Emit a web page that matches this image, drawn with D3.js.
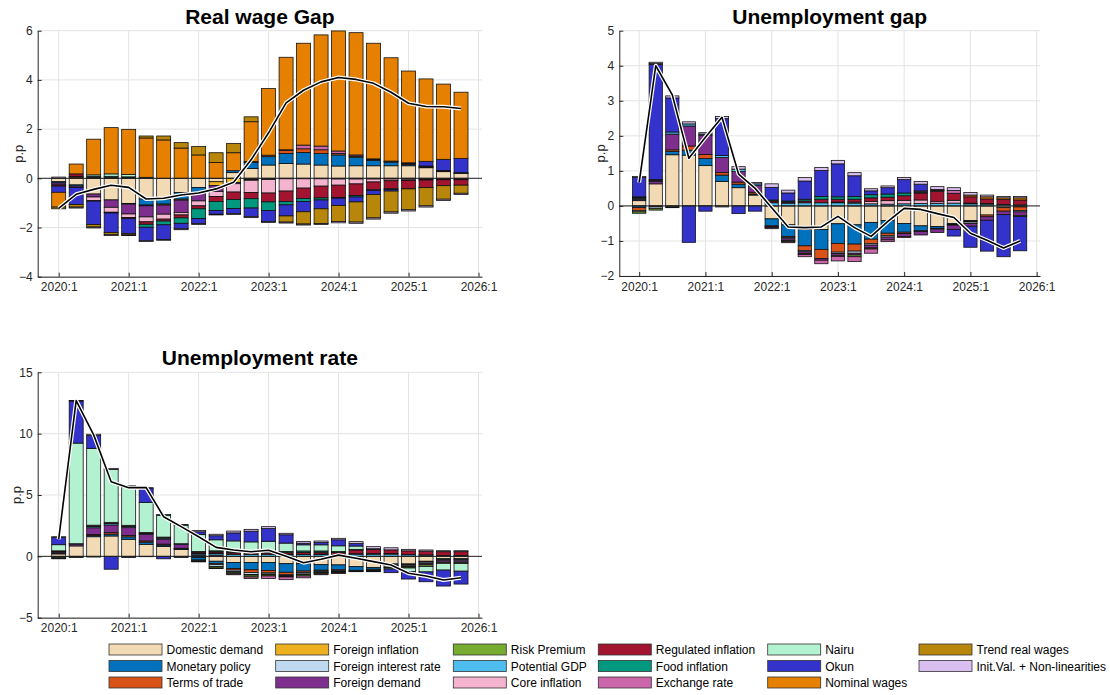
<!DOCTYPE html>
<html>
<head>
<meta charset="utf-8">
<script src="https://cdn.jsdelivr.net/npm/d3@7"></script>
<style>
body { margin: 0; background: #fff; }
text { font-family: "Liberation Sans", Arial, sans-serif; }
</style>
</head>
<body>
<script>
// quarters shown as bars
var quarters = ["2020:1","2020:2","2020:3","2020:4","2021:1","2021:2","2021:3","2021:4",
  "2022:1","2022:2","2022:3","2022:4","2023:1","2023:2","2023:3","2023:4",
  "2024:1","2024:2","2024:3","2024:4","2025:1","2025:2","2025:3","2025:4"];
var xTickLabels = ["2020:1","2021:1","2022:1","2023:1","2024:1","2025:1","2026:1"];

var factors = ["Domestic demand","Monetary policy","Terms of trade","Foreign inflation","Foreign interest rate",
  "Foreign demand","Risk Premium","Potential GDP","Core inflation","Regulated inflation","Food inflation",
  "Exchange rate","Nairu","Okun","Nominal wages","Trend real wages","Init.Val. + Non-linearities"];
var colors = ["#F2DAB5","#0072BD","#D95319","#EDB120","#BFD9F0","#7E2F8E","#77AC30","#4DBEEE","#F4B3CE",
  "#A2142F","#00997F","#CC66AA","#B3F2D1","#3333CC","#E68000","#B8860B","#D9BFEF"];

// Real wage gap
var rwDomestic = [-0.14,-0.27,-0.64,-0.88,-1.02,-0.84,-0.85,-0.58,-0.37,-0.14,0.23,0.40,0.54,0.60,0.58,0.54,0.50,0.51,0.51,0.51,0.51,0.43,0.27,0.20];
var rwMonetary = [-0.05,-0.05,0,0,-0.03,-0.25,-0.20,-0.27,-0.20,0,0.08,0.25,0.34,0.41,0.47,0.47,0.45,0.35,0.22,0.15,0.05,0.03,0.02,0];
var rwTerms = [0,0.05,0,0,0,0,0,0,0,0,0,0.03,0.06,0.12,0.15,0.15,0.06,0.04,0.03,0.02,0.02,0.02,0.01,0.01];
var rwForInfl = [0,0,0,0,0,-0.03,-0.04,-0.04,-0.05,-0.15,-0.17,-0.05,-0.03,0,0,0,0,0,0,0,0,0,0,0];
var rwForDemand = [-0.08,-0.05,-0.12,-0.30,-0.40,-0.45,-0.37,-0.50,-0.30,-0.25,-0.05,-0.03,-0.02,-0.02,-0.02,-0.02,-0.03,-0.03,-0.03,-0.03,-0.04,-0.04,-0.04,-0.04];
var rwRisk = [0,0.03,0.03,0.03,0.03,0,0,0,0,0,0,0,0,0,0,0,0,0,0,0,0,0,0,0];
var rwCore = [0,0,-0.15,-0.20,-0.14,-0.20,-0.20,-0.10,-0.20,-0.20,-0.34,-0.50,-0.55,-0.50,-0.38,-0.30,-0.25,-0.20,-0.12,-0.07,-0.05,-0.03,-0.02,-0.02];
var rwRegulated = [-0.05,0.10,-0.02,-0.03,-0.05,-0.10,-0.08,-0.12,-0.12,-0.20,-0.30,-0.25,-0.36,-0.43,-0.42,-0.48,-0.50,-0.47,-0.32,-0.33,-0.33,-0.30,-0.24,-0.22];
var rwFood = [0,0,0.05,0.05,0.03,-0.12,-0.15,-0.22,-0.40,-0.37,-0.37,-0.38,-0.35,-0.13,-0.12,-0.08,-0.03,-0.06,-0.02,-0.02,-0.01,-0.01,0,0];
var rwExchange = [0,0,0,0,0,0,0,0,0,0,0,0,0,0.03,0.15,0.15,0.10,0.05,0.03,0.02,0.02,0.02,0.02,0.02];
var rwNairu = [0,0,0.06,0.10,0.10,0.04,0,0,0,0,0,0,0,0,0,0,0,0,0,0,0,0,0,0];
var rwOkun = [-0.25,-0.70,-0.95,-0.80,-0.60,-0.55,-0.60,-0.22,-0.20,-0.15,-0.20,-0.35,-0.45,-0.45,-0.42,-0.36,-0.30,-0.20,-0.17,-0.07,0.03,0.19,0.45,0.58];
var rwNomWages = [-0.60,0.40,1.45,1.88,1.83,1.60,1.56,1.23,0.95,0.64,0.73,1.62,2.71,3.76,4.14,4.52,4.88,4.97,4.70,4.20,3.73,3.35,3.06,2.69];
var rwTrend = [-0.07,-0.10,-0.10,-0.08,-0.06,0.08,0.16,0.22,0.34,0.40,0.38,0.20,0,-0.25,-0.50,-0.60,-0.65,-0.82,-0.95,-0.85,-0.85,-0.74,-0.55,-0.33];
var rwInit = [0.05,-0.04,-0.04,-0.04,-0.03,-0.03,-0.03,-0.04,-0.04,-0.03,-0.04,-0.04,-0.04,-0.04,-0.04,-0.04,-0.05,-0.05,-0.05,-0.05,-0.05,-0.05,-0.05,-0.05];
var rwTotal = [-1.22,-0.65,-0.45,-0.28,-0.37,-0.84,-0.81,-0.68,-0.60,-0.43,-0.16,0.75,1.85,3.07,3.58,3.92,4.10,4.02,3.86,3.50,3.05,2.92,2.91,2.84];

// Unemployment gap
var ugDomestic = [0.15,0.63,1.46,1.45,1.15,0.70,0.52,0.31,-0.37,-0.54,-0.67,-0.67,-0.51,-0.54,-0.47,-0.42,-0.50,-0.57,-0.59,-0.50,-0.42,-0.26,-0.05,-0.03];
var ugMonetary = [-0.05,0,0.09,0.14,0.20,0.18,0.10,0.03,-0.20,-0.33,-0.47,-0.57,-0.56,-0.55,-0.48,-0.36,-0.25,-0.14,-0.05,-0.03,-0.02,0,0,0];
var ugTerms = [-0.08,-0.03,0.05,0.12,0.12,0.07,0.06,0.05,-0.02,-0.03,-0.13,-0.26,-0.25,-0.20,-0.13,-0.07,-0.04,-0.02,-0.02,-0.02,-0.02,-0.05,-0.10,-0.10];
var ugForIntRate = [-0.04,-0.05,-0.03,0,0,-0.03,0,0,0,-0.04,-0.04,0,-0.04,-0.06,-0.04,-0.04,0,0,0,0,-0.04,0,0,-0.04];
var ugForDemand = [0.04,0.07,0.45,0.57,0.55,0.43,0.30,0.20,-0.03,-0.05,-0.05,-0.05,-0.05,-0.05,-0.08,-0.08,-0.08,-0.10,-0.10,-0.12,-0.08,-0.10,-0.10,-0.10];
var ugRisk = [-0.04,-0.04,-0.02,0,0,0,0,0,0,-0.03,-0.03,0,-0.03,-0.05,-0.03,0,0,0,0,0,0,0,0,-0.03];
var ugPotential = [0.03,0.03,0.06,0.06,0.03,0.06,0.07,0.04,0.09,0.08,0.09,0.09,0.09,0.08,0.06,0.05,0.06,0.07,0.07,0.08,0.06,0.05,0.04,0.03];
var ugCore = [0,0,0,0,0,0,0,0,0,0,0,0,0.02,0.03,0.07,0.10,0.10,0.10,0.05,0.08,0.02,0.02,0,0];
var ugRegulated = [0.02,0.02,0,0,0,0,0,0,0.05,0.03,0.05,0.10,0.08,0.08,0.10,0.10,0.13,0.20,0.30,0.20,0.18,0.13,0.14,0.14];
var ugFood = [0.02,0,0,0,0,0,0,0,0.03,0.03,0.05,0.08,0.07,0.08,0.09,0.09,0.08,0.03,0.02,0,0,0,0,0];
var ugExchange = [0,0,0,0,0,0,0,0,-0.03,-0.03,-0.06,-0.10,-0.13,-0.14,-0.12,-0.05,-0.03,0.03,0.03,0.08,0,0,0,0];
var ugOkun = [0.55,3.29,0.97,-1.04,-0.15,1.05,-0.22,-0.15,0.36,0.23,0.52,0.74,0.94,0.59,0.11,0.18,0.38,0.19,0,-0.19,-0.60,-0.88,-1.20,-0.98];
var ugNomWages = [0,0.02,0,0,0,0,0,0,0,0,0,0,0,0,0,0,0,0,0,0,0.05,0.06,0.05,0.06];
var ugInit = [0.03,0.04,0.06,0.06,0.04,0.06,0.07,0.04,0.10,0.08,0.10,0.09,0.10,0.09,0.06,0.05,0.06,0.08,0.08,0.08,0.07,0.05,0.04,0.04];
var ugTotal = [0.67,4.00,3.17,1.36,1.96,2.53,0.91,0.50,-0.05,-0.60,-0.62,-0.60,-0.30,-0.62,-0.87,-0.45,-0.07,-0.10,-0.22,-0.33,-0.78,-0.98,-1.20,-1.00];

// Unemployment rate
var urDomestic = [0.20,0.85,1.60,1.66,1.39,0.98,0.80,0.57,-0.10,-0.40,-0.50,-0.50,-0.50,-0.60,-0.60,-0.68,-0.70,-0.84,-0.90,-0.62,-0.62,-0.40,-0.20,-0.20];
var urMonetary = [0.05,0,0.10,0.15,0.20,0.18,0.12,0.05,-0.20,-0.20,-0.50,-0.60,-0.65,-0.70,-0.60,-0.45,-0.40,-0.30,-0.15,-0.10,-0.05,-0.05,-0.03,-0.02];
var urTerms = [-0.05,0,0.08,0.12,0.12,0.10,0.08,0.04,-0.05,-0.08,-0.12,-0.22,-0.20,-0.20,-0.12,-0.08,-0.05,-0.04,-0.03,-0.03,-0.03,-0.03,-0.05,-0.05];
var urForIntRate = [-0.08,-0.05,-0.03,0,0,-0.03,0,0,-0.04,-0.14,-0.13,-0.16,-0.10,-0.07,-0.12,-0.08,-0.08,-0.02,-0.06,-0.12,-0.09,-0.12,-0.09,-0.10];
var urForDemand = [0.10,0.15,0.55,0.63,0.63,0.54,0.40,0.30,0.10,0.10,-0.05,-0.05,-0.05,-0.05,-0.05,-0.05,-0.05,-0.05,-0.05,-0.05,-0.07,-0.10,-0.12,-0.12];
var urRisk = [-0.07,-0.05,-0.02,0,0,0,0,0,-0.03,-0.13,-0.12,-0.15,-0.10,-0.06,-0.11,-0.08,-0.07,0,-0.06,-0.11,-0.09,-0.12,-0.08,-0.10];
var urPotential = [0.05,0.03,0.11,0.11,0.09,0.06,0.09,0.07,0.10,0.12,0.15,0.15,0.16,0.13,0.14,0.14,0.12,0.17,0.17,0.18,0.13,0.10,0.08,0.08];
var urCore = [0,0,0,0,0,0,0,0,0.05,0.05,0.05,0.05,0.05,0.05,0.03,0.05,0.05,0.05,0.05,0.05,0.02,0.02,0,0];
var urRegulated = [0.05,0,0.10,0.10,0.10,0.08,0.08,0,0.10,0.10,0.12,0.12,0.12,0.12,0.15,0.15,0.15,0.30,0.35,0.30,0.30,0.30,0.30,0.30];
var urFood = [0,0,0,0,0,0,0,0,0.05,0.08,0.10,0.10,0.10,0.10,0.12,0.10,0.08,0.05,0.05,0,0,0,0,0];
var urExchange = [0,0,0,0,0,0,0,0,-0.03,-0.05,-0.08,-0.12,-0.20,-0.22,-0.15,-0.08,-0.05,0,0,0,0,0,0,0];
var urNairu = [0.50,8.20,6.26,4.30,3.15,2.46,1.76,1.50,1.37,0.90,0.84,0.76,0.80,0.68,0.50,0.50,0.46,0.27,0,0,-0.30,-0.45,-0.55,-0.62];
var urOkun = [0.60,3.43,1.05,-1.05,-0.10,1.14,-0.20,-0.10,0.23,0.33,0.65,0.87,1.03,0.68,0.13,0.18,0.49,0.20,0,-0.30,-0.60,-0.80,-1.30,-1.05];
var urInit = [0.05,0.04,0.10,0.10,0.08,0.06,0.09,0.07,0.10,0.12,0.15,0.15,0.16,0.12,0.13,0.13,0.12,0.16,0.17,0.17,0.12,0.10,0.08,0.08];
var urTotal = [1.40,12.70,9.90,6.08,5.60,5.60,3.23,2.42,1.60,0.73,0.52,0.38,0.50,0.00,-0.52,-0.24,0.10,-0.16,-0.43,-0.70,-1.38,-1.60,-1.93,-1.74];

var svg = d3.select("body").append("svg").attr("width", 1110).attr("height", 695);

function drawPanel(p) {
  var x = d3.scaleLinear().domain([-1.2, 24.2]).range([p.left, p.right]);
  var y = d3.scaleLinear().domain(p.yDomain).range([p.bottom, p.top]);
  var bw = (x(1) - x(0)) * 0.8;
  var g = svg.append("g");
  var xt = d3.range(0, 25, 4);

  // grid
  g.selectAll("line.gx").data(xt).enter().append("line")
    .attr("x1", function(d){ return x(d); }).attr("x2", function(d){ return x(d); })
    .attr("y1", p.top).attr("y2", p.bottom)
    .attr("stroke", "#e3e3e3").attr("stroke-width", 1);
  g.selectAll("line.gy").data(p.yTicks).enter().append("line")
    .attr("x1", p.left).attr("x2", p.right)
    .attr("y1", function(d){ return y(d); }).attr("y2", function(d){ return y(d); })
    .attr("stroke", "#e3e3e3").attr("stroke-width", 1);

  // stack the contributions, positives and negatives separately
  var segs = [];
  quarters.forEach(function(q, i) {
    var pos = 0, neg = 0;
    factors.forEach(function(f, k) {
      var arr = p.series[f];
      if (!arr || !arr[i]) return;
      var v = arr[i], y0, y1;
      if (v > 0) { y0 = pos; y1 = pos + v; pos = y1; }
      else { y1 = neg; y0 = neg + v; neg = y0; }
      segs.push({i: i, k: k, y0: y0, y1: y1});
    });
  });

  g.selectAll("rect.seg").data(segs).enter().append("rect")
    .attr("x", function(d){ return x(d.i) - bw / 2; })
    .attr("y", function(d){ return y(d.y1); })
    .attr("width", bw)
    .attr("height", function(d){ return y(d.y0) - y(d.y1); })
    .attr("fill", function(d){ return colors[d.k]; })
    .attr("stroke", "#111").attr("stroke-width", 0.8);

  // zero line
  g.append("line").attr("x1", p.left).attr("x2", p.right)
    .attr("y1", y(0)).attr("y2", y(0))
    .attr("stroke", "#222").attr("stroke-width", 1);

  // total
  var line = d3.line().x(function(d, i){ return x(i); }).y(function(d){ return y(d); });
  g.append("path").datum(p.total).attr("d", line)
    .attr("fill", "none").attr("stroke", "#fff").attr("stroke-width", 4).attr("stroke-linejoin", "round");
  g.append("path").datum(p.total).attr("d", line)
    .attr("fill", "none").attr("stroke", "#000").attr("stroke-width", 1.6).attr("stroke-linejoin", "round");

  // axes
  var ax = g.append("g").attr("transform", "translate(0," + p.bottom + ")")
    .call(d3.axisBottom(x).tickValues(xt).tickFormat(function(d, i){ return xTickLabels[i]; })
      .tickSizeInner(-4).tickSizeOuter(0).tickPadding(6));
  var ay = g.append("g").attr("transform", "translate(" + p.left + ",0)")
    .call(d3.axisLeft(y).tickValues(p.yTicks).tickFormat(d3.format("d"))
      .tickSizeInner(-4).tickSizeOuter(0).tickPadding(5));
  [ax, ay].forEach(function(a) {
    a.attr("font-size", 12).attr("font-family", "Liberation Sans, Arial, sans-serif");
    a.selectAll("path, line").attr("stroke", "#262626");
    a.selectAll("text").attr("fill", "#262626");
  });

  g.append("text").attr("x", (p.left + p.right) / 2).attr("y", p.top - 7)
    .attr("text-anchor", "middle").attr("font-size", 21).attr("font-weight", "bold")
    .attr("fill", "#000").text(p.title);
  g.append("text").attr("transform", "translate(" + p.labelX + "," + (p.top + p.bottom) / 2 + ") rotate(-90)")
    .attr("text-anchor", "middle").attr("font-size", 13).attr("fill", "#262626").text("p.p");
}

drawPanel({
  title: "Real wage Gap", left: 37.7, right: 482, top: 30.7, bottom: 276.7, labelX: 22.5,
  yDomain: [-4, 6], yTicks: [-4, -2, 0, 2, 4, 6], total: rwTotal,
  series: {"Domestic demand": rwDomestic, "Monetary policy": rwMonetary, "Terms of trade": rwTerms,
    "Foreign inflation": rwForInfl, "Foreign demand": rwForDemand, "Risk Premium": rwRisk,
    "Core inflation": rwCore, "Regulated inflation": rwRegulated, "Food inflation": rwFood,
    "Exchange rate": rwExchange, "Nairu": rwNairu, "Okun": rwOkun, "Nominal wages": rwNomWages,
    "Trend real wages": rwTrend, "Init.Val. + Non-linearities": rwInit}
});

drawPanel({
  title: "Unemployment gap", left: 619.3, right: 1040, top: 30.7, bottom: 276, labelX: 604.5,
  yDomain: [-2, 5], yTicks: [-2, -1, 0, 1, 2, 3, 4, 5], total: ugTotal,
  series: {"Domestic demand": ugDomestic, "Monetary policy": ugMonetary, "Terms of trade": ugTerms,
    "Foreign interest rate": ugForIntRate, "Foreign demand": ugForDemand, "Risk Premium": ugRisk,
    "Potential GDP": ugPotential, "Core inflation": ugCore, "Regulated inflation": ugRegulated,
    "Food inflation": ugFood, "Exchange rate": ugExchange, "Okun": ugOkun, "Nominal wages": ugNomWages,
    "Init.Val. + Non-linearities": ugInit}
});

drawPanel({
  title: "Unemployment rate", left: 37.7, right: 482, top: 372.3, bottom: 617.7, labelX: 20.5,
  yDomain: [-5, 15], yTicks: [-5, 0, 5, 10, 15], total: urTotal,
  series: {"Domestic demand": urDomestic, "Monetary policy": urMonetary, "Terms of trade": urTerms,
    "Foreign interest rate": urForIntRate, "Foreign demand": urForDemand, "Risk Premium": urRisk,
    "Potential GDP": urPotential, "Core inflation": urCore, "Regulated inflation": urRegulated,
    "Food inflation": urFood, "Exchange rate": urExchange, "Nairu": urNairu, "Okun": urOkun,
    "Init.Val. + Non-linearities": urInit}
});

// legend, column by column
var legX = [109, 275.7, 453.3, 598.3, 767.7, 919];
var legY = [644, 660.5, 677];
var leg = svg.append("g").selectAll("g").data(factors).enter().append("g")
  .attr("transform", function(d, k){ return "translate(" + legX[Math.floor(k / 3)] + "," + legY[k % 3] + ")"; });
leg.append("rect").attr("width", 53).attr("height", 11)
  .attr("fill", function(d, k){ return colors[k]; })
  .attr("stroke", "#333").attr("stroke-width", 0.8);
leg.append("text").attr("x", 57.5).attr("y", 10).attr("font-size", 12).attr("fill", "#000")
  .text(function(d){ return d; });
</script>
</body>
</html>
